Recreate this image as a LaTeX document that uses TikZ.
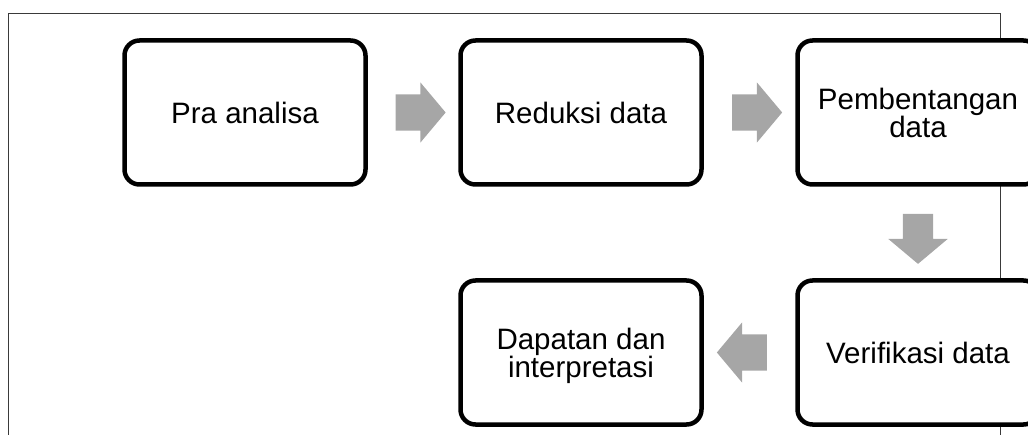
\documentclass[tikz,border=0pt]{standalone}
\usepackage{fontspec}
\setmainfont{Liberation Sans}
\usepackage{xcolor}
\usetikzlibrary{shapes.arrows, positioning, calc}
\definecolor{outline}{HTML}{000000}
\definecolor{flowgray}{HTML}{A6A6A6}
\definecolor{framegray}{HTML}{3A3A3A}
\tikzset{
    stage/.style={rectangle, draw=outline, fill=white, line width=4.5pt, rounded corners=15pt, minimum width=241pt, minimum height=144pt, outer sep=0pt, align=center, text depth=0pt, font=\fontsize{29.5}{28}\selectfont},
    flowarrow/.style={single arrow, fill=flowgray, draw=none, minimum height=50pt, inner xsep=0pt, inner ysep=18pt, single arrow head extend=12pt, single arrow tip angle=100, outer sep=0pt},
    frameline/.style={draw=framegray, line width=1.2pt}
}

\begin{document}
\begin{tikzpicture}[x=1pt, y=-1pt, node distance=95pt]
    \useasboundingbox (0,0) rectangle (1028,435);
    \draw [frameline] (8.5,435) -- (8.5,13.5) -- (1000.5,13.5) -- (1000.5,435);

    \node [stage] (pra) at (245,112.5) {Pra analisa};
    \node [stage, right=of pra] (reduksi) {Reduksi data};
    \node [stage, right=96pt of reduksi] (bentang) {Pembentangan\\data};
    \node [stage, below=96pt of bentang] (verif) {Verifikasi data};
    \node [stage, left=96pt of verif] (dapatan) {Dapatan dan\\interpretasi};

    \node [flowarrow] (a1) at ($(pra.east)!0.5!(reduksi.west)$) {};
    \node [flowarrow] (a2) at ($(reduksi.east)!0.5!(bentang.west)$) {};
    \node [flowarrow, rotate=-90, inner ysep=15pt, single arrow head extend=14.5pt] (a3) at ($(bentang.south)!0.5!(verif.north)$) {};
    \node [flowarrow, rotate=180] (a4) at ($(verif.west)!0.5!(dapatan.east)$) {};
\end{tikzpicture}
\end{document}
